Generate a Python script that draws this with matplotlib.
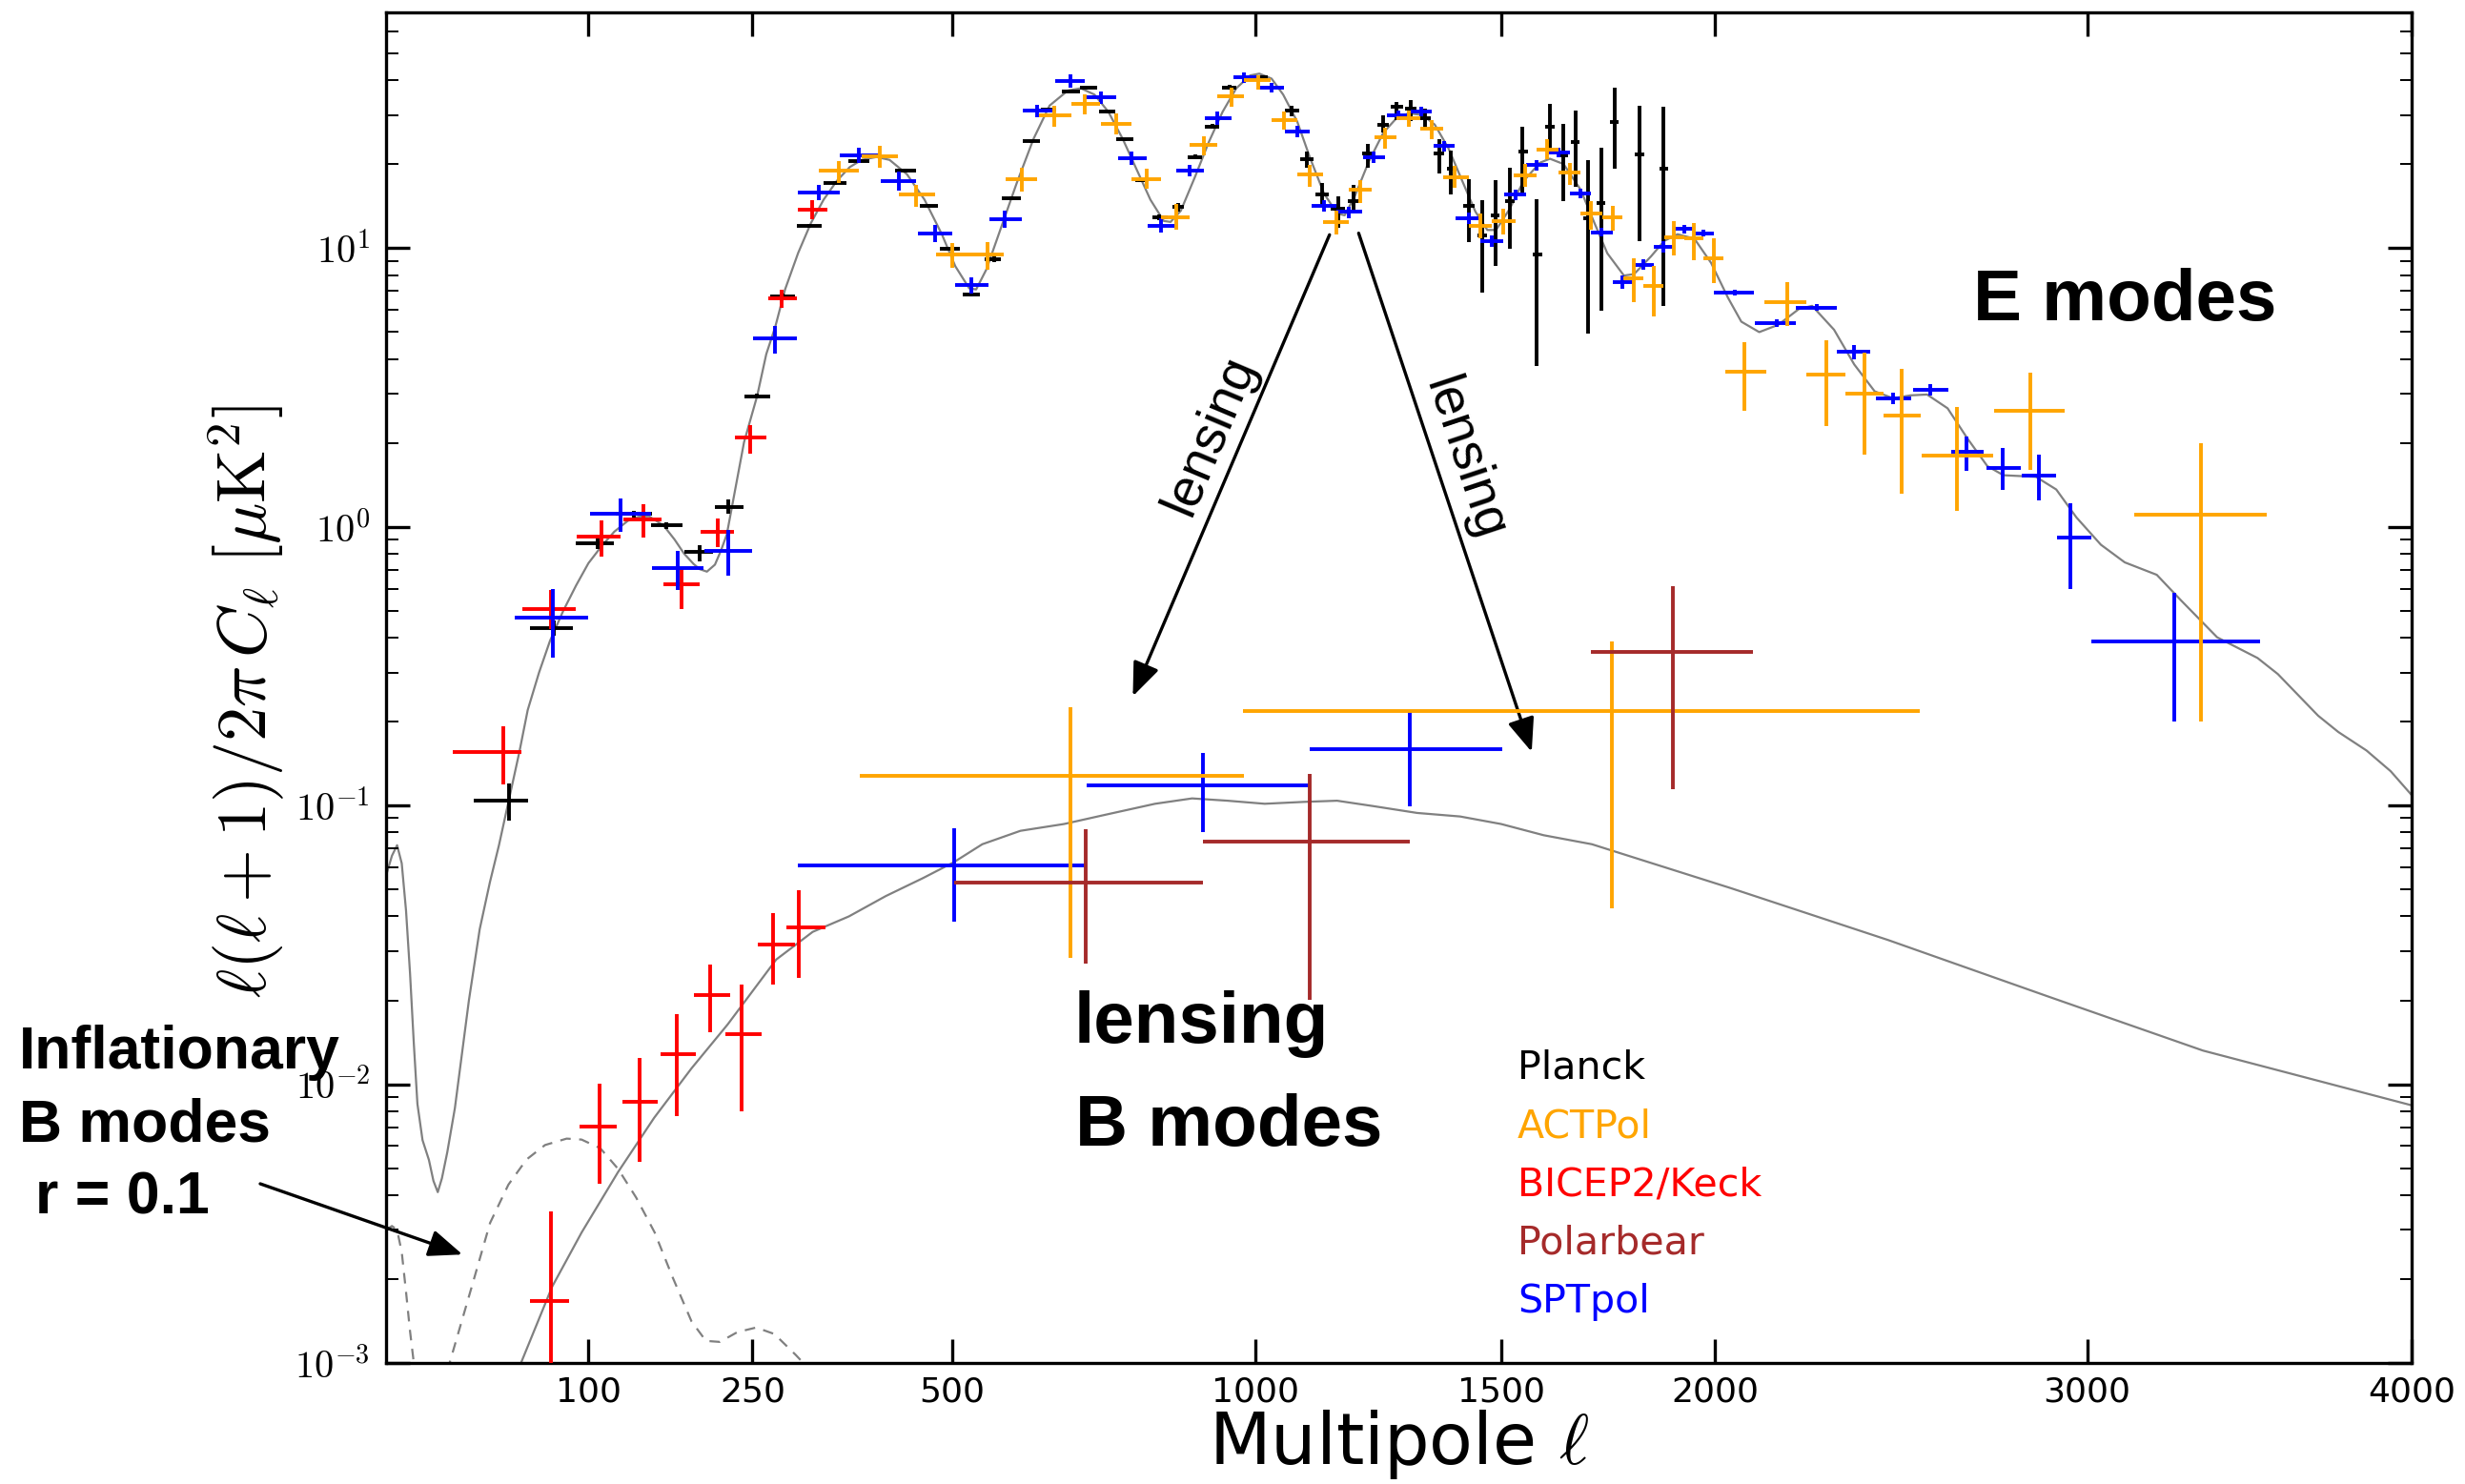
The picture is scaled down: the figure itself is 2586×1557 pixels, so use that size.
import numpy as np
import matplotlib
matplotlib.use("Agg")
import matplotlib.pyplot as plt
from matplotlib.ticker import FixedLocator, FuncFormatter, LogLocator, NullFormatter, NullLocator

plt.rcParams['mathtext.fontset'] = 'cm'
plt.rcParams['font.family'] = ['DejaVu Sans']

# ---------------- theory spectra ----------------
ee_ell = np.array([2, 3, 4, 5, 6, 7, 8, 9, 10.5, 12.5, 14, 15.5, 17, 19, 22, 24.5, 28, 33, 38, 42.7,
                   48, 54, 59, 66, 73, 82, 91, 100, 110, 120, 131, 140, 149, 162, 172, 181, 190, 196,
                   203, 211, 217, 223, 231, 241, 255, 265, 275, 286, 301, 316, 331, 347, 363, 378,
                   397, 414, 437, 461, 485, 504, 524, 534, 549, 569, 594, 620, 645, 674, 695, 717,
                   740, 764, 787, 811, 834, 846, 864, 889, 914, 939, 964, 990, 1007, 1030, 1052,
                   1079, 1104, 1131, 1157, 1172, 1192, 1221, 1250, 1277, 1302, 1331, 1357, 1386,
                   1415, 1444, 1470, 1489, 1519, 1549, 1586, 1609, 1640, 1679, 1710, 1741, 1780,
                   1804, 1844, 1876, 1908, 1949, 1990, 2032, 2065, 2110, 2158, 2211, 2245, 2302,
                   2355, 2409, 2458, 2506, 2550, 2606, 2661, 2716, 2761, 2853, 2911, 2969, 3040,
                   3110, 3205, 3277, 3387, 3511, 3574, 3700, 3764, 3854, 3932, 4000])
ee_dl = np.array([0.056, 0.066, 0.072, 0.062, 0.042, 0.025, 0.014, 0.0085, 0.0063, 0.00535, 0.0045,
                  0.0041, 0.0046, 0.0057, 0.0082, 0.012, 0.020, 0.036, 0.053, 0.072,
                  0.104, 0.155, 0.22, 0.30, 0.389, 0.50, 0.616, 0.74, 0.852, 0.96, 1.05, 1.085,
                  1.09, 1.01, 0.90, 0.80, 0.735, 0.704, 0.69, 0.731, 0.82, 0.937, 1.32, 2.01, 2.94,
                  4.16, 5.22, 7.1, 9.6, 12.3, 14.9, 17.4, 19.5, 20.7, 21.2, 20.7, 18.4, 14.9, 11.2,
                  8.6, 7.16, 7.1, 8.38, 11.5, 17.0, 24.6, 32.4, 36.7, 37.4, 35.5, 30.8, 24.6, 19.2,
                  14.9, 12.5, 12.4, 13.6, 17.96, 24.0, 30.8, 37.4, 41.6, 42.2, 40.5, 35.5, 28.4,
                  21.0, 15.7, 13.3, 13.1, 15.3, 20.5, 25.9, 29.2, 30.4, 30.0, 27.7, 22.8, 17.5,
                  13.5, 11.6, 11.6, 13.8, 17.3, 20.2, 20.9, 20.0, 16.2, 12.4, 9.57, 7.96, 8.06,
                  9.32, 10.6, 11.2, 10.8, 8.84, 6.62, 5.44, 4.99, 5.30, 6.04, 6.20, 5.09, 3.82,
                  3.06, 2.89, 2.96, 2.98, 2.66, 2.07, 1.65, 1.53, 1.51, 1.36, 1.08, 0.862, 0.745,
                  0.672, 0.545, 0.401, 0.338, 0.296, 0.21, 0.1835, 0.1575, 0.1327, 0.109])

bb_lens_ell = np.array([50, 55, 74.5, 95, 123, 153.5, 188, 224, 276, 318, 362, 409, 459, 502, 543,
                        600, 668, 733, 819, 884, 948, 1017, 1092, 1157, 1229, 1320, 1411, 1500,
                        1595, 1705, 2039, 2445, 2880, 3344, 4000])
bb_lens_dl = np.array([0.0008, 0.001, 0.00188, 0.00294, 0.00484, 0.00757, 0.0114, 0.0164, 0.0280,
                       0.0352, 0.040, 0.0473, 0.0549, 0.0626, 0.0726, 0.0811, 0.0858, 0.0924,
                       0.1014, 0.106, 0.104, 0.1014, 0.103, 0.104, 0.0995, 0.094, 0.0913, 0.0858,
                       0.0782, 0.0726, 0.0505, 0.0329, 0.0208, 0.0132, 0.0084])

bb_r01_ell = np.array([2, 3, 4, 5, 6, 7, 8, 9.5, np.nan, 18.5, 19.9, 29.3, 38.1, 47.8, 58.3, 69.8,
                       84.3, 94.9, 109, 123, 138, 154, 170, 188, 202, 216, 234, 254, 274, 298,
                       307, 320])
bb_r01_dl = np.array([0.0030, 0.0031, 0.0030, 0.0025, 0.0018, 0.0013, 0.0010, 0.0007, np.nan,
                      0.0008, 0.001, 0.00188, 0.00318, 0.00436, 0.00537, 0.00605, 0.00638,
                      0.00633, 0.00589, 0.00497, 0.00392, 0.00294, 0.00204, 0.00141, 0.0012,
                      0.00119, 0.00129, 0.00134, 0.00127, 0.00107, 0.001, 0.0008])

# ---------------- EE band powers ----------------
planck_ee_ell = np.array([47.9, 75.5, 106.6, 136, 164.6, 195.5, 225, 255, 283, 314, 345, 374, 435,
                          467, 490, 527, 561, 586, 617, 644, 678, 708, 738, 767, 794, 826, 859,
                          889, 920, 951, 1014, 1068, 1098, 1127, 1159, 1189, 1219, 1250, 1277,
                          1307, 1337, 1366, 1392, 1430, 1459, 1487, 1520, 1548, 1580, 1608, 1639,
                          1667, 1696, 1727, 1758, 1817, 1874])
planck_ee_lo = np.array([30.1, 60.3, 90.4, 121.4, 151, 181, 211, 241, 269, 300, 331, 361, 421, 454,
                         482, 514, 546, 572, 603, 632, 664, 694, 724, 753, 785, 814, 850, 876,
                         907, 938, 998, 1055, 1085, 1114, 1145, 1178, 1207, 1237, 1265, 1295,
                         1326, 1355, 1382, 1418, 1449, 1477, 1509, 1538, 1570, 1598, 1629, 1657,
                         1686, 1717, 1748, 1806, 1864])
planck_ee_hi = np.array([59.2, 89, 119.8, 151.4, 179.5, 209, 240, 269, 297, 329, 359, 388, 449,
                         480, 510, 540, 570, 600, 630, 656, 694, 722, 751, 782, 805, 841, 870,
                         902, 933, 964, 1023, 1082, 1111, 1141, 1172, 1203, 1231, 1262, 1290,
                         1318, 1348, 1377, 1402, 1442, 1470, 1497, 1530, 1560, 1591, 1620, 1651,
                         1677, 1707, 1737, 1768, 1828, 1885])
planck_ee_dl = np.array([0.104, 0.434, 0.869, 1.11, 1.01, 0.81, 1.18, 2.94, 6.7, 11.97, 17.1, 20.5,
                         18.9, 14.2, 9.95, 6.83, 9.14, 15.1, 24.1, 31.3, 36.5, 37.7, 30.8, 24.5,
                         17.5, 12.9, 14.0, 21.2, 27.3, 37.7, 41.1, 31.0, 20.9, 15.5, 13.8, 14.7,
                         21.9, 27.7, 32.0, 31.6, 29.2, 21.9, 19.2, 14.2, 11.05, 13.1, 14.75, 22.2,
                         9.44, 27.2, 21.5, 24.0, 12.8, 14.5, 28.4, 21.6, 19.2])
planck_ee_dlo = np.array([0.088, 0.407, 0.83, 1.08, 0.98, 0.75, 1.11, 2.88, 6.55, 11.8, 16.8, 20.2,
                          18.6, 14.0, 9.8, 6.7, 8.9, 14.9, 23.8, 31.0, 36.2, 37.4, 30.4, 24.2,
                          17.2, 12.6, 13.5, 20.8, 26.8, 37.0, 40.5, 29.6, 19.4, 14.2, 11.8, 13.6,
                          19.4, 25.9, 28.8, 28.5, 26.5, 18.5, 15.6, 10.5, 6.89, 8.61, 9.96, 15.7,
                          3.77, 22.3, 14.75, 16.6, 4.93, 5.96, 19.2, 10.6, 6.2])
planck_ee_dhi = np.array([0.120, 0.462, 0.92, 1.14, 1.04, 0.86, 1.25, 3.0, 6.85, 12.15, 17.4, 20.8,
                          19.2, 14.4, 10.1, 6.95, 9.4, 15.3, 24.4, 31.6, 36.8, 38.0, 31.2, 24.8,
                          17.8, 13.2, 14.5, 21.6, 27.8, 38.4, 41.7, 32.4, 22.1, 17.1, 15.3, 16.8,
                          23.7, 30.0, 33.3, 34.0, 31.5, 24.6, 22.4, 17.7, 14.9, 17.5, 19.4, 27.3,
                          15.0, 33.0, 27.9, 31.0, 20.6, 22.9, 37.5, 32.4, 32.0])

act_ee_ell = np.array([350, 401, 450, 500, 551, 602, 652, 702, 753, 805, 856, 905, 955, 1004, 1053,
                       1104, 1155, 1203, 1253, 1302, 1351, 1399, 1455, 1504, 1553, 1602, 1654,
                       1702, 1754, 1803, 1850, 1899, 1947, 1996, 2072, 2180, 2283, 2382, 2482,
                       2633, 2836, 3338])
act_ee_lo = np.array([325, 378, 426, 477, 527, 578, 629, 680, 728, 779, 829, 880, 930, 979, 1030,
                      1080, 1129, 1180, 1232, 1277, 1326, 1375, 1430, 1479, 1528, 1580, 1629,
                      1678, 1729, 1779, 1827, 1875, 1925, 1972, 2025, 2122, 2231, 2331, 2433,
                      2536, 2736, 3139])
act_ee_hi = np.array([375, 425, 476, 527, 575, 625, 679, 726, 779, 829, 880, 930, 979, 1028, 1079,
                      1129, 1180, 1227, 1277, 1326, 1375, 1430, 1480, 1532, 1580, 1629, 1678,
                      1729, 1777, 1825, 1874, 1925, 1972, 2020, 2128, 2231, 2331, 2433, 2533,
                      2733, 2936, 3539])
act_ee_dl = np.array([18.9, 21.3, 15.5, 9.49, 9.49, 17.6, 29.8, 32.9, 27.9, 17.6, 12.9, 23.4, 34.9,
                      40.0, 28.7, 18.3, 12.4, 16.2, 24.9, 29.2, 26.8, 17.96, 11.96, 12.5, 18.2,
                      22.6, 18.7, 13.3, 12.9, 7.79, 7.31, 10.9, 10.8, 9.2, 3.60, 6.40, 3.51, 3.0,
                      2.51, 1.80, 2.61, 1.104])
act_ee_dlo = np.array([17.1, 19.4, 14.0, 8.5, 8.38, 15.9, 27.2, 30.2, 25.6, 16.3, 11.6, 21.5, 32.1,
                       37.0, 26.5, 16.6, 11.2, 14.5, 22.7, 27.3, 24.6, 16.4, 10.8, 11.2, 16.6,
                       20.8, 16.8, 11.6, 11.55, 6.41, 5.69, 9.37, 9.04, 7.51, 2.61, 5.23, 2.30,
                       1.81, 1.31, 1.14, 1.60, 0.20])
act_ee_dhi = np.array([20.5, 23.2, 16.9, 10.4, 10.5, 19.4, 32.4, 35.6, 30.4, 19.2, 14.4, 25.2, 37.5,
                       41.6, 30.8, 19.9, 13.6, 17.5, 27.0, 31.2, 28.8, 19.7, 13.3, 13.8, 19.95,
                       24.5, 20.2, 14.75, 14.2, 9.15, 8.61, 12.5, 12.3, 10.8, 4.59, 7.55, 4.68,
                       4.20, 3.68, 2.69, 3.58, 1.99])

spt_ee_ell = np.array([75, 124.8, 175, 225, 275, 325, 375, 426, 476, 527, 576, 625, 678, 727, 779,
                       829, 880, 930, 979, 1030, 1080, 1131, 1180, 1231, 1281, 1328, 1376, 1430,
                       1480, 1532, 1580, 1629, 1678, 1727, 1777, 1827, 1874, 1925, 1972, 2048,
                       2154, 2256, 2354, 2458, 2558, 2658, 2759, 2861, 2952, 3256])
spt_ee_lo = np.array([51.5, 101, 151.4, 201, 251, 300.7, 351, 402, 452, 504, 553, 603, 654, 703,
                      756, 806, 856, 907, 958, 1006, 1055, 1106, 1155, 1208, 1257, 1306, 1354,
                      1402, 1455, 1506, 1556, 1604, 1655, 1702, 1754, 1803, 1852, 1899, 1948,
                      1998, 2099, 2204, 2309, 2412, 2512, 2615, 2713, 2812, 2913, 3013])
spt_ee_hi = np.array([100, 150.6, 200, 250, 300, 351, 400, 450, 500, 552, 602, 650, 702, 753, 805,
                      854, 905, 955, 1004, 1053, 1104, 1155, 1207, 1253, 1302, 1351, 1399, 1455,
                      1504, 1556, 1604, 1654, 1703, 1754, 1803, 1852, 1899, 1948, 1996, 2097,
                      2204, 2309, 2398, 2508, 2609, 2706, 2809, 2911, 3013, 3518])
spt_ee_dl = np.array([0.471, 1.11, 0.711, 0.82, 4.73, 15.8, 21.5, 17.4, 11.3, 7.39, 12.7, 31.0, 39.8,
                      34.6, 21.0, 12.0, 19.0, 29.2, 41.1, 37.7, 26.1, 14.2, 13.5, 21.2, 30.0, 30.8,
                      23.2, 12.8, 10.6, 15.5, 19.8, 22.0, 15.7, 11.4, 7.55, 8.72, 10.1, 11.7,
                      11.3, 6.94, 5.37, 6.12, 4.24, 2.89, 3.10, 1.86, 1.63, 1.53, 0.912, 0.389])
spt_ee_dlo = np.array([0.340, 0.955, 0.593, 0.665, 4.19, 14.8, 20.2, 16.0, 10.5, 6.88, 11.8, 29.4,
                       37.7, 32.9, 19.9, 11.4, 18.1, 27.7, 39.2, 36.0, 24.9, 13.5, 12.8, 20.2,
                       28.8, 29.6, 22.2, 12.2, 10.1, 14.8, 18.9, 21.2, 15.1, 11.0, 7.15, 8.35,
                       9.6, 11.3, 11.0, 6.78, 5.2, 5.95, 4.0, 2.75, 2.95, 1.59, 1.36, 1.24, 0.60,
                       0.200])
spt_ee_dhi = np.array([0.597, 1.26, 0.82, 0.973, 5.26, 16.9, 22.8, 18.8, 12.1, 7.85, 13.6, 32.7,
                       41.8, 36.3, 22.1, 12.8, 19.9, 30.8, 42.7, 39.0, 27.4, 14.9, 14.0, 22.2,
                       31.2, 32.0, 24.2, 13.4, 11.1, 16.2, 20.7, 22.8, 16.3, 11.8, 7.95, 9.1,
                       10.6, 12.1, 11.6, 7.1, 5.55, 6.3, 4.5, 3.02, 3.25, 2.11, 1.91, 1.81, 1.215,
                       0.577])

bicep_ee_ell = np.array([45, 73.4, 109.7, 144.3, 178.5, 213.5, 248, 282.6, 317])
bicep_ee_lo = np.array([21, 56, 91.3, 127.6, 161.8, 196.7, 231, 267, 300.7])
bicep_ee_hi = np.array([55, 90.4, 125.4, 160.3, 195.5, 230.5, 265, 299.5, 335])
bicep_ee_dl = np.array([0.156, 0.508, 0.919, 1.059, 0.621, 0.955, 2.09, 6.62, 13.7])
bicep_ee_dlo = np.array([0.119, 0.428, 0.78, 0.912, 0.505, 0.842, 1.83, 6.08, 12.7])
bicep_ee_dhi = np.array([0.192, 0.593, 1.05, 1.20, 0.718, 1.07, 2.32, 7.10, 14.8])

# ---------------- BB band powers ----------------
bicep_bb_ell = np.array([73.8, 108.2, 141, 174, 206, 238, 272, 302])
bicep_bb_lo = np.array([60.5, 93.6, 126.5, 158.9, 190, 222, 255.6, 287])
bicep_bb_hi = np.array([86.1, 121.7, 156.5, 192.5, 226, 260, 297, 333])
bicep_bb_dl = np.array([0.00167, 0.00703, 0.00867, 0.0128, 0.0209, 0.0151, 0.0318, 0.0365])
bicep_bb_dlo = np.array([0.0002, 0.00438, 0.00527, 0.00766, 0.0154, 0.0080, 0.0227, 0.024])
bicep_bb_dhi = np.array([0.00351, 0.01005, 0.0124, 0.0179, 0.0269, 0.0228, 0.0411, 0.0497])

pb_bb_ell = np.array([703, 1104, 1896])
pb_bb_lo = np.array([503, 904, 1703])
pb_bb_hi = np.array([904, 1304, 2094])
pb_bb_dl = np.array([0.0529, 0.0739, 0.355])
pb_bb_dlo = np.array([0.0271, 0.0201, 0.114])
pb_bb_dhi = np.array([0.082, 0.130, 0.612])

spt_bb_ell = np.array([502, 904, 1304])
spt_bb_lo = np.array([300.5, 704, 1104])
spt_bb_hi = np.array([702, 1104, 1503])
spt_bb_dl = np.array([0.0607, 0.1176, 0.1595])
spt_bb_dlo = np.array([0.0383, 0.0802, 0.0995])
spt_bb_dhi = np.array([0.0826, 0.1543, 0.219])

act_bb_ell = np.array([678, 1751])
act_bb_lo = np.array([376, 977])
act_bb_hi = np.array([978, 2529])
act_bb_dl = np.array([0.1276, 0.219])
act_bb_dlo = np.array([0.0283, 0.0426])
act_bb_dhi = np.array([0.225, 0.388])

x_ticks = [100, 250, 500, 1000, 1500, 2000, 3000, 4000]
legend_names = ["Planck", "ACTPol", "BICEP2/Keck", "Polarbear", "SPTpol"]
legend_colors = ["black", "orange", "red", "brown", "blue"]

# ---------------- figure ----------------
W, H = 2586, 1557
fig = plt.figure(figsize=(W / 100, H / 100), dpi=100)
ax = fig.add_axes([405 / W, 127 / H, 2125 / W, 1417 / H])


def fwd(x):
    x = np.asarray(x, dtype=float)
    return np.sign(x) * np.abs(x) ** 0.6


def inv(x):
    x = np.asarray(x, dtype=float)
    return np.sign(x) * np.abs(x) ** (1 / 0.6)


ax.set_xscale('function', functions=(fwd, inv))
ax.set_yscale('log')
ax.set_xlim(2, 4000)
ax.set_ylim(1e-3, 70)

gray = '#808080'
ax.plot(ee_ell, ee_dl, color=gray, lw=1.6, zorder=1)
ax.plot(bb_lens_ell, bb_lens_dl, color=gray, lw=1.6, zorder=1)
ax.plot(bb_r01_ell, bb_r01_dl, color=gray, lw=1.6, ls=(0, (5, 4)), zorder=1)


def bandpowers(ell, lo, hi, dl, dlo, dhi, color, z):
    ax.errorbar(ell, dl, xerr=[ell - lo, hi - ell], yerr=[dl - dlo, dhi - dl],
                fmt='none', ecolor=color, elinewidth=2.8, capsize=0, zorder=z)


bandpowers(planck_ee_ell, planck_ee_lo, planck_ee_hi, planck_ee_dl, planck_ee_dlo, planck_ee_dhi, 'black', 2)
bandpowers(bicep_ee_ell, bicep_ee_lo, bicep_ee_hi, bicep_ee_dl, bicep_ee_dlo, bicep_ee_dhi, 'red', 3)
bandpowers(bicep_bb_ell, bicep_bb_lo, bicep_bb_hi, bicep_bb_dl, bicep_bb_dlo, bicep_bb_dhi, 'red', 3)
bandpowers(spt_ee_ell, spt_ee_lo, spt_ee_hi, spt_ee_dl, spt_ee_dlo, spt_ee_dhi, 'blue', 4)
bandpowers(spt_bb_ell, spt_bb_lo, spt_bb_hi, spt_bb_dl, spt_bb_dlo, spt_bb_dhi, 'blue', 4)
bandpowers(act_ee_ell, act_ee_lo, act_ee_hi, act_ee_dl, act_ee_dlo, act_ee_dhi, 'orange', 5)
bandpowers(act_bb_ell, act_bb_lo, act_bb_hi, act_bb_dl, act_bb_dlo, act_bb_dhi, 'orange', 5)
bandpowers(pb_bb_ell, pb_bb_lo, pb_bb_hi, pb_bb_dl, pb_bb_dlo, pb_bb_dhi, 'brown', 6)

# ---------------- axes styling ----------------
for s in ax.spines.values():
    s.set_linewidth(2.4)
ax.xaxis.set_major_locator(FixedLocator(x_ticks))
ax.xaxis.set_major_formatter(FuncFormatter(lambda v, p: '%d' % v))
ax.xaxis.set_minor_locator(NullLocator())
ax.yaxis.set_major_locator(LogLocator(base=10, numticks=20))
ax.yaxis.set_minor_locator(LogLocator(base=10, subs=np.arange(2, 10), numticks=20))
ax.yaxis.set_minor_formatter(NullFormatter())
ax.yaxis.set_major_formatter(FuncFormatter(lambda v, p: r'$10^{%d}$' % int(round(np.log10(v)))))
ax.tick_params(which='major', direction='in', length=18, width=2.4, top=True, right=True)
ax.tick_params(which='minor', direction='in', length=9, width=1.4, top=True, right=True)
ax.tick_params(axis='x', labelsize=26, pad=10)
ax.tick_params(axis='y', labelsize=29, pad=12)

ax.set_xlabel(r'Multipole $\ell$', fontsize=54)
ax.xaxis.set_label_coords(0.5, -0.033)
ax.set_ylabel(r'$\ell(\ell+1)/2\pi\,C_\ell\ [\mu{\rm K}^2]$', fontsize=52)
ax.yaxis.set_label_coords(-0.049, 0.49)


def fxy(px, py):
    return px / W, 1 - py / H


bold = dict(family='Liberation Sans', weight='bold', color='black')
fig.text(*fxy(2070, 336), 'E modes', fontsize=55, ha='left', va='baseline', **bold)
fig.text(*fxy(1127, 1094), 'lensing', fontsize=55, ha='left', va='baseline', **bold)
fig.text(*fxy(1128, 1202), 'B modes', fontsize=55, ha='left', va='baseline', **bold)
fig.text(*fxy(20, 1121), 'Inflationary', fontsize=45, ha='left', va='baseline', **bold)
fig.text(*fxy(20, 1197), 'B modes', fontsize=45, ha='left', va='baseline', **bold)
fig.text(*fxy(37, 1273), 'r = 0.1', fontsize=45, ha='left', va='baseline', **bold)

for i, (name, col) in enumerate(zip(legend_names, legend_colors)):
    fig.text(*fxy(1592, 1132 + 61.2 * i), name, color=col, fontsize=29.6,
             ha='left', va='baseline')

# lensing arrows
arrow = dict(arrowstyle='-|>,head_length=0.45,head_width=0.18', lw=2.4, color='black',
             mutation_scale=48, shrinkA=0, shrinkB=0)
ax.annotate('', xy=(781, 0.2465), xytext=(1142, 11.15), arrowprops=arrow)
ax.annotate('', xy=(1568, 0.1557), xytext=(1200, 11.3), arrowprops=arrow)
fig.text(*fxy(1270, 457), 'lensing', family='Liberation Sans', fontsize=40, rotation=67.1,
         ha='center', va='center', rotation_mode='anchor')
fig.text(*fxy(1536, 481), 'lensing', family='Liberation Sans', fontsize=40, rotation=-71.6,
         ha='center', va='center', rotation_mode='anchor')

ax.annotate('', xy=(25.2, 0.00245), xycoords='data',
            xytext=fxy(273, 1242), textcoords='figure fraction',
            arrowprops=arrow, annotation_clip=False)

fig.savefig('out.png', dpi=100)
